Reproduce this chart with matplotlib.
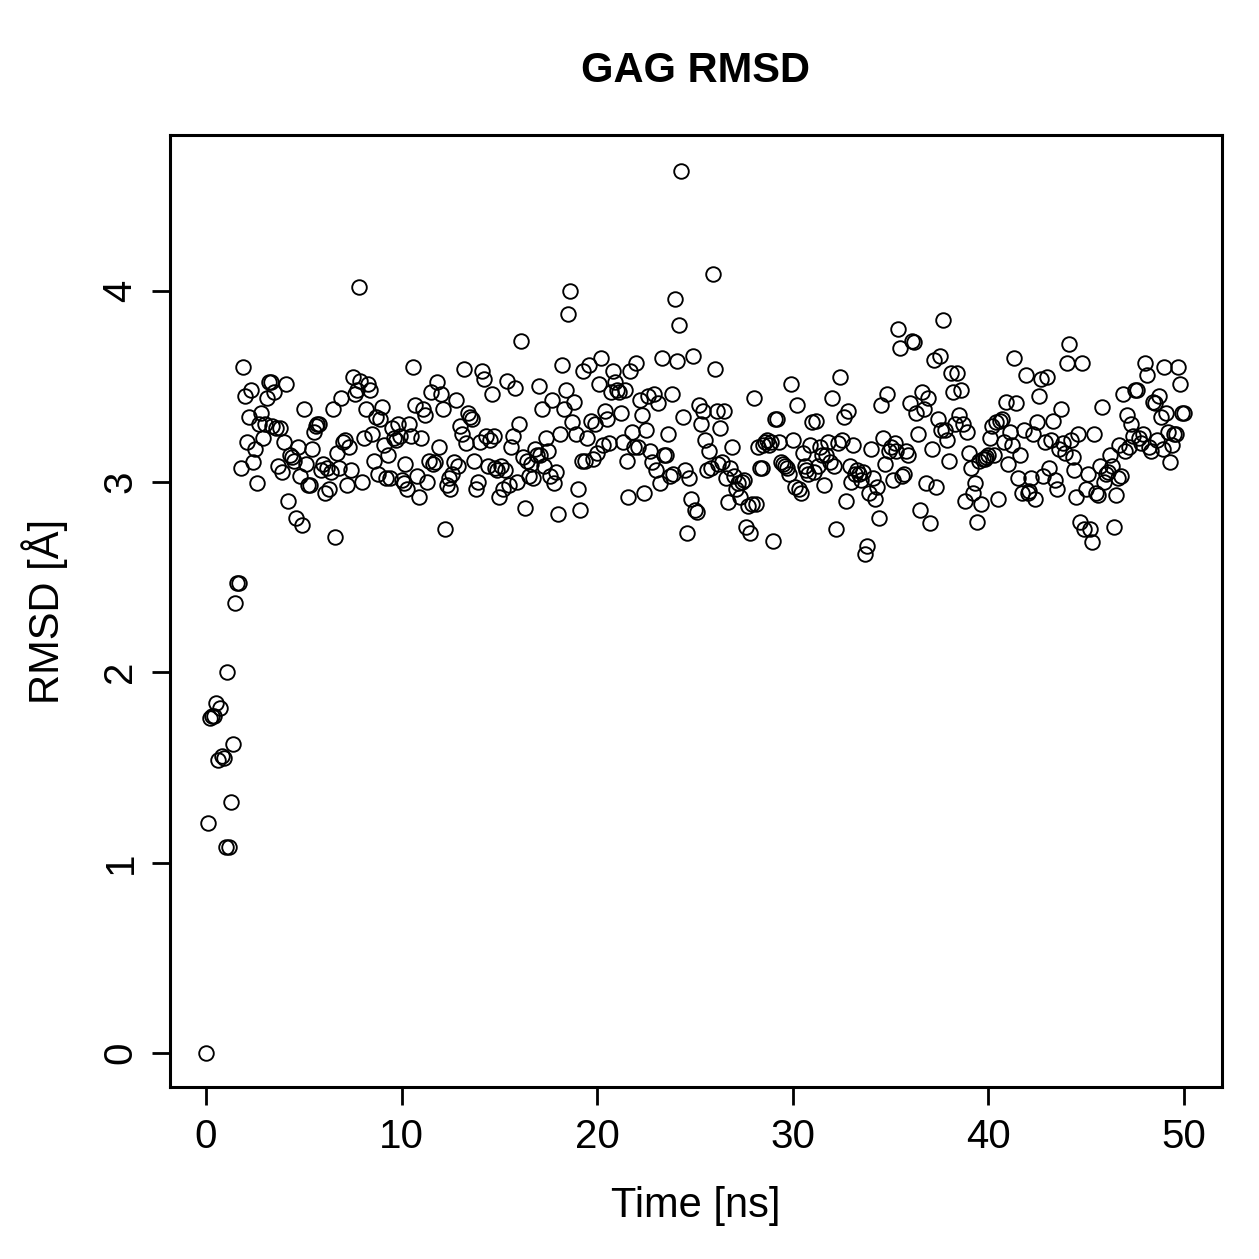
import numpy as np
import matplotlib
matplotlib.use("Agg")
import matplotlib.pyplot as plt

plt.rcParams['font.family'] = ['Liberation Sans', 'DejaVu Sans']

# RMSD values, one frame every 0.1 ns (0 .. 50 ns)
rmsd_0_2 = [0.00, 1.21, 1.76, 1.77, 1.77, 1.84, 1.54, 1.81, 1.56, 1.55,
            1.08, 2.00, 1.08, 1.32, 1.62, 2.36, 2.47, 2.47, 3.07, 3.60]
rmsd_2_10 = [3.45, 3.21, 3.34, 3.48, 3.10, 3.17, 2.99, 3.30, 3.36, 3.23,
             3.30, 3.44, 3.52, 3.52, 3.29, 3.47, 3.28, 3.08, 3.28, 3.05,
             3.21, 3.51, 2.90, 3.14, 3.13, 3.11, 2.81, 3.18, 3.03, 2.77,
             3.38, 3.09, 2.98, 2.98, 3.17, 3.26, 3.29, 3.30, 3.30, 3.06,
             3.09, 2.94, 3.07, 2.96, 3.05, 3.38, 2.71, 3.15, 3.07, 3.44,
             3.21, 3.22, 2.98, 3.18, 3.06, 3.55, 3.46, 3.48, 4.02, 3.53,
             3.00, 3.23, 3.38, 3.51, 3.48, 3.25, 3.11, 3.34, 3.04, 3.33,
             3.39, 3.19, 3.02, 3.14, 3.02, 3.28, 3.23, 3.22, 3.30, 3.24]
rmsd_10_20 = [3.01, 2.99, 3.09, 2.96, 3.30, 3.24, 3.60, 3.40, 3.03, 2.92,
              3.23, 3.38, 3.35, 3.00, 3.11, 3.47, 3.09, 3.10, 3.52, 3.18,
              3.46, 3.38, 2.75, 2.98, 3.02, 2.96, 3.04, 3.10, 3.43, 3.08,
              3.29, 3.25, 3.59, 3.20, 3.36, 3.34, 3.33, 3.11, 2.96, 3.00,
              3.21, 3.58, 3.54, 3.24, 3.08, 3.22, 3.46, 3.24, 3.07, 3.06,
              2.92, 3.08, 2.96, 3.06, 3.53, 2.98, 3.18, 3.24, 3.49, 3.00,
              3.30, 3.74, 3.13, 2.86, 3.11, 3.03, 3.09, 3.02, 3.17, 3.14,
              3.50, 3.14, 3.38, 3.08, 3.23, 3.16, 3.03, 3.43, 2.99, 3.05,
              2.83, 3.25, 3.61, 3.38, 3.48, 3.88, 4.00, 3.31, 3.42, 3.25,
              2.96, 2.85, 3.11, 3.58, 3.11, 3.23, 3.61, 3.32, 3.12, 3.30]
rmsd_20_30 = [3.15, 3.51, 3.65, 3.19, 3.37, 3.33, 3.20, 3.47, 3.58, 3.52,
              3.48, 3.47, 3.36, 3.21, 3.48, 3.11, 2.92, 3.58, 3.26, 3.18,
              3.62, 3.18, 3.43, 3.35, 2.94, 3.27, 3.45, 3.16, 3.10, 3.46,
              3.06, 3.41, 2.99, 3.65, 3.14, 3.14, 3.25, 3.03, 3.46, 3.04,
              3.96, 3.63, 3.82, 4.63, 3.34, 3.06, 2.73, 3.02, 2.91, 3.66,
              2.85, 2.84, 3.40, 3.30, 3.37, 3.22, 3.06, 3.16, 3.07, 4.09,
              3.59, 3.37, 3.09, 3.28, 3.10, 3.37, 3.02, 2.89, 3.07, 3.18,
              3.03, 2.96, 2.99, 2.92, 3.00, 3.01, 2.76, 2.87, 2.73, 2.88,
              3.44, 2.88, 3.18, 3.07, 3.07, 3.19, 3.21, 3.22, 3.19, 3.21,
              2.69, 3.33, 3.33, 3.21, 3.10, 3.09, 3.08, 3.07, 3.04, 3.51]
rmsd_30_40 = [3.22, 2.97, 3.40, 2.96, 2.94, 3.15, 3.08, 3.06, 3.04, 3.19,
              3.31, 3.05, 3.32, 3.08, 3.18, 3.14, 2.98, 3.14, 3.21, 3.10,
              3.44, 3.08, 2.75, 3.20, 3.55, 3.22, 3.34, 2.90, 3.37, 3.08,
              3.00, 3.19, 3.04, 3.06, 3.04, 3.01, 3.05, 2.62, 2.66, 2.94,
              3.17, 3.02, 2.91, 2.97, 2.81, 3.40, 3.23, 3.09, 3.46, 3.16,
              3.18, 3.01, 3.20, 3.16, 3.80, 3.70, 3.03, 3.04, 3.16, 3.14,
              3.41, 3.74, 3.73, 3.36, 3.25, 2.85, 3.47, 3.38, 2.99, 3.44,
              2.78, 3.17, 3.64, 2.97, 3.33, 3.66, 3.27, 3.85, 3.27, 3.22,
              3.11, 3.57, 3.47, 3.30, 3.57, 3.35, 3.48, 3.30, 2.90, 3.26,
              3.15, 3.07, 2.94, 2.99, 2.79, 3.11, 2.88, 3.12, 3.12, 3.13]
rmsd_40_50 = [3.14, 3.23, 3.29, 3.14, 3.31, 2.91, 3.32, 3.33, 3.21, 3.42,
              3.09, 3.26, 3.19, 3.65, 3.41, 3.02, 3.14, 2.94, 3.27, 3.56,
              2.94, 2.95, 3.02, 3.25, 2.91, 3.31, 3.45, 3.54, 3.03, 3.21,
              3.55, 3.07, 3.22, 3.32, 3.01, 2.96, 3.17, 3.38, 3.20, 3.15,
              3.62, 3.72, 3.22, 3.13, 3.06, 2.92, 3.25, 2.79, 3.62, 2.75,
              2.96, 3.04, 2.75, 2.68, 3.25, 2.94, 2.93, 3.08, 3.39, 3.00,
              3.04, 3.05, 3.14, 3.08, 2.76, 2.93, 3.02, 3.19, 3.03, 3.46,
              3.16, 3.35, 3.18, 3.30, 3.24, 3.48, 3.48, 3.23, 3.20, 3.25,
              3.62, 3.56, 3.18, 3.16, 3.42, 3.41, 3.22, 3.45, 3.34, 3.17,
              3.60, 3.36, 3.26, 3.10, 3.19, 3.25, 3.25, 3.60, 3.51, 3.36,
              3.36]

rmsd = np.array(rmsd_0_2 + rmsd_2_10 + rmsd_10_20 + rmsd_20_30 + rmsd_30_40 + rmsd_40_50)
time_ns = np.arange(len(rmsd)) * 0.1

xticks = [0, 10, 20, 30, 40, 50]
yticks = [0, 1, 2, 3, 4]

fig = plt.figure(figsize=(12.59, 12.59), dpi=100)
ax = fig.add_axes([0.135, 0.1366, 0.8356, 0.7562])

ax.plot(time_ns, rmsd, linestyle='none', marker='o', markersize=10.5,
        markerfacecolor='none', markeredgecolor='black', markeredgewidth=1.35)

ax.set_xlim(-1.84, 51.94)
ax.set_ylim(-0.178, 4.819)
ax.set_xticks(xticks)
ax.set_yticks(yticks)
ax.tick_params(direction='out', length=13, width=2, labelsize=29, pad=9)
for lab in ax.get_yticklabels():
    lab.set_rotation(90)
    lab.set_va('center')
for s in ax.spines.values():
    s.set_linewidth(2.2)

ax.set_xlabel('Time [ns]', fontsize=30, labelpad=22)
ax.set_ylabel('RMSD [Å]', fontsize=30, labelpad=24)
ax.set_title('GAG RMSD', fontsize=30, fontweight='bold', pad=38)

fig.savefig('out.png', dpi=100)
